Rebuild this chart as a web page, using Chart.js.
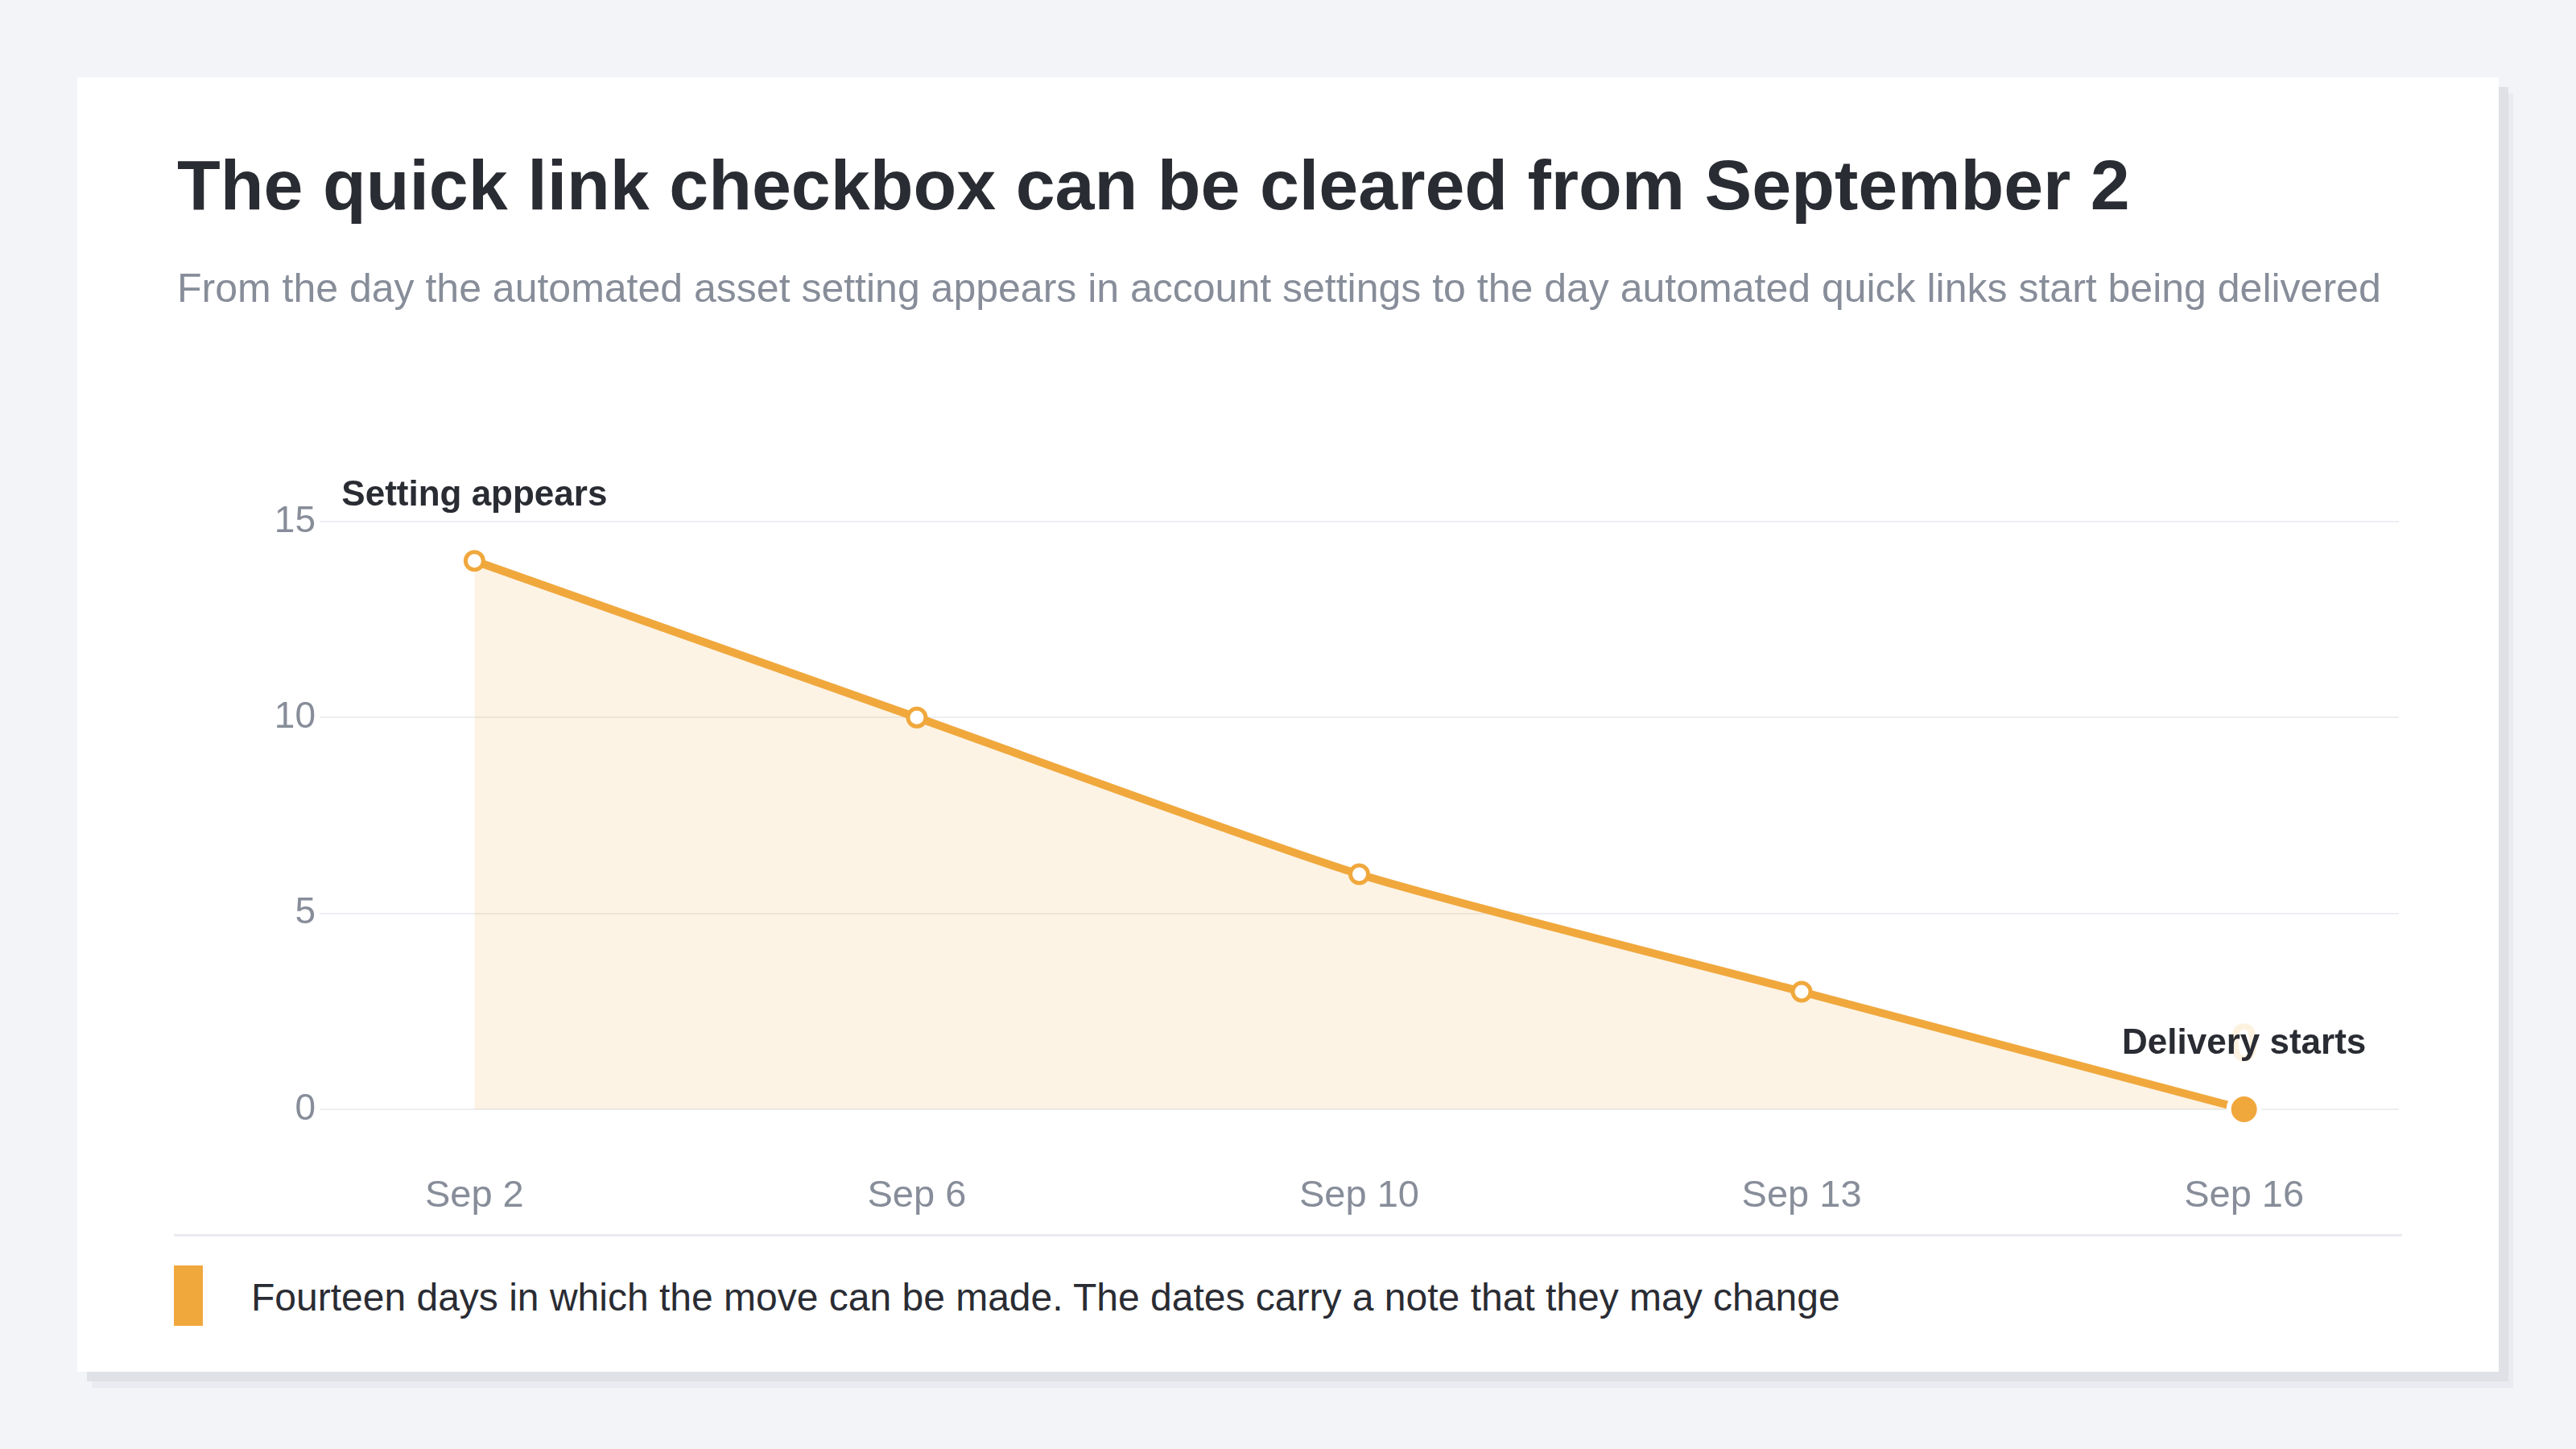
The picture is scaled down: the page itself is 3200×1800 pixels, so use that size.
<!DOCTYPE html>
<html>
<head>
<meta charset="utf-8">
<script src="https://cdn.jsdelivr.net/npm/chart.js@4.4.1/dist/chart.umd.min.js"></script>
<style>
  html, body { margin:0; padding:0; }
  body { width:3200px; height:1800px; background:#f3f4f8; font-family:"Liberation Sans", Arial, sans-serif; position:relative; overflow:hidden; }
  #card { position:absolute; left:96px; top:96px; width:3008px; height:1608px; background:#fff;
    box-shadow: 12px 12px 0 #dfe1e6, 18px 20px 0 #eaebf0; }
  .txt { position:absolute; white-space:nowrap; line-height:normal; }
  #title { left:220px; top:179px; font-size:88px; font-weight:bold; color:#2a2c33; }
  #sub { left:220px; top:329px; font-size:50px; color:#878d99; }
  #chartBox { position:absolute; left:216px; top:540px; width:2789px; height:1000px; }
  #sep { position:absolute; left:216px; top:1533px; width:2768px; height:3px; background:#e9ebef; }
  #legSwatch { position:absolute; left:216px; top:1572px; width:36px; height:75px; background:#f0a83d; }
  #legText { left:312px; top:1584px; font-size:48px; color:#2a2c33; }
</style>
</head>
<body>
<div id="card"></div>
<div id="title" class="txt">The quick link checkbox can be cleared from September 2</div>
<div id="sub" class="txt">From the day the automated asset setting appears in account settings to the day automated quick links start being delivered</div>
<div id="chartBox"><canvas id="chart"></canvas></div>
<div id="sep"></div>
<div id="legSwatch"></div>
<div id="legText" class="txt">Fourteen days in which the move can be made. The dates carry a note that they may change</div>

<script>
// data
const dayLabels = ['Sep 2', 'Sep 6', 'Sep 10', 'Sep 13', 'Sep 16'];
const daysLeft = [14, 10, 6, 3, 0];
const yTicks = [0, 5, 10, 15];
const notes = ['Setting appears', '', '', '', 'Delivery starts'];

const orange = '#f0a83d';
const lastIdx = daysLeft.length - 1;

// labels above first / last point
const notePlugin = {
  id: 'notes',
  afterDatasetsDraw(chart){
    const ctx = chart.ctx;
    const pts = chart.getDatasetMeta(0).data;
    ctx.save();
    ctx.textAlign = 'center';
    ctx.textBaseline = 'alphabetic';
    // faint value label on last point
    const lp = pts[lastIdx];
    ctx.fillStyle = 'rgba(240,168,61,0.16)';
    ctx.font = 'bold 66px "Liberation Sans", Arial, sans-serif';
    ctx.fillText(String(daysLeft[lastIdx]), lp.x, lp.y - 60);
    ctx.fillStyle = '#2a2c33';
    ctx.font = 'bold 44px "Liberation Sans", Arial, sans-serif';
    notes.forEach((n, i)=>{ if(n) ctx.fillText(n, pts[i].x, pts[i].y - 69); });
    ctx.restore();
  }
};

const ctx = document.getElementById('chart').getContext('2d');
new Chart(ctx, {
  type: 'line',
  data: {
    datasets: [{
      data: daysLeft.map((v, i)=>({x: i, y: v})),
      borderColor: orange,
      borderWidth: 10,
      backgroundColor: 'rgba(240,168,61,0.14)',
      fill: 'origin',
      tension: 0.2,
      clip: false,
      pointRadius: daysLeft.map((v, i)=> i === lastIdx ? 19 : 11),
      pointBorderWidth: daysLeft.map((v, i)=> i === lastIdx ? 6 : 5),
      pointBackgroundColor: daysLeft.map((v, i)=> i === lastIdx ? orange : '#ffffff'),
      pointBorderColor: daysLeft.map((v, i)=> i === lastIdx ? '#ffffff' : orange)
    }]
  },
  options: {
    responsive: true,
    maintainAspectRatio: false,
    animation: false,
    layout: { padding: { top: 108, right: 6, left: 0, bottom: 0 } },
    plugins: { legend: { display: false }, tooltip: { enabled: false } },
    scales: {
      x: {
        type: 'linear',
        min: -0.35, max: lastIdx + 0.35,
        afterBuildTicks: s => { s.ticks = dayLabels.map((_, i)=>({value: i})); },
        afterFit: s => { s.height = 162; },
        grid: { display: false },
        border: { display: false },
        ticks: {
          callback: v => dayLabels[v] ?? '',
          color: '#878d99',
          font: { family: '"Liberation Sans", Arial, sans-serif', size: 47 },
          padding: 72,
          maxRotation: 0,
          autoSkip: false
        }
      },
      y: {
        min: 0, max: 15,
        afterBuildTicks: s => { s.ticks = yTicks.map(v=>({value: v})); },
        afterFit: s => { s.width = 181; },
        grid: { color: '#eceef2', lineWidth: 2, drawTicks: false },
        border: { display: false },
        ticks: {
          color: '#878d99',
          font: { family: '"Liberation Sans", Arial, sans-serif', size: 46 },
          padding: 5
        }
      }
    }
  },
  plugins: [notePlugin]
});
</script>
</body>
</html>
